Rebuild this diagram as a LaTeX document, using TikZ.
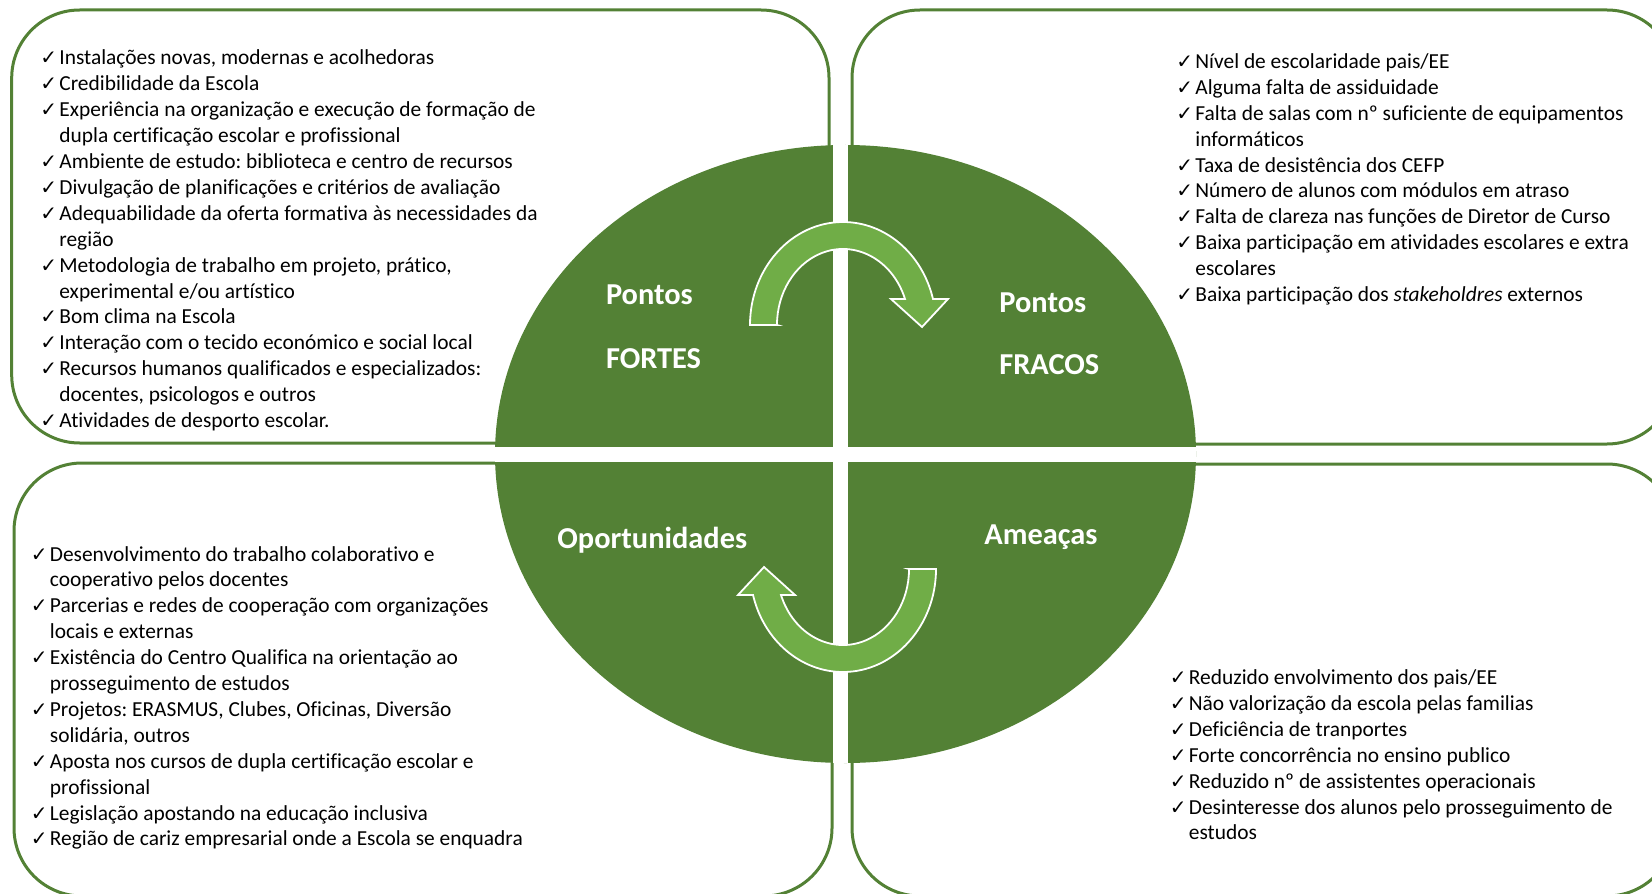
\documentclass[tikz,border=0pt]{standalone}
\usepackage{fontspec}
\setmainfont{Carlito}[Ligatures=NoCommon]
\newfontfamily\ckfont{DejaVu Sans}
\definecolor{dkgreen}{HTML}{538135}
\definecolor{ltgreen}{HTML}{70AD47}
\frenchspacing
\newcommand{\ck}{\makebox[9.5pt][l]{\ckfont\fontsize{10}{10}\selectfont ✓}}
\tikzset{
  boxline/.style={draw=dkgreen, line width=1.5pt, rounded corners=34pt},
  listtext/.style={anchor=base west, inner sep=0pt, font=\fontsize{10.7}{12.95}\selectfont\frenchspacing},
  label/.style={anchor=base west, inner sep=0pt, text=white, font=\fontsize{15.2}{18}\selectfont\bfseries},
  cyc/.style={fill=ltgreen, draw=white, line width=0.9pt, line join=miter}
}
\begin{document}
\begin{tikzpicture}[x=0.5pt, y=-0.5pt]
\useasboundingbox (0,0) rectangle (1652,893);
\clip (0,0) rectangle (1652,893);
% boxes
\draw[boxline] (11.7,10) rectangle (829,443);
\draw[boxline] (852,10) rectangle (1675,444);
\draw[boxline] (14,463) rectangle (832,896);
\draw[boxline] (852,464) rectangle (1675,896);
% ellipse
\fill[dkgreen] (845.5,454) ellipse [x radius=350.5, y radius=309];
\begin{scope}
\clip (845.5,454) ellipse [x radius=350.5, y radius=309];
\fill[white] (833,0) rectangle (848,893);
\fill[white] (0,447) rectangle (1652,462);
\end{scope}
% arrows
\filldraw[cyc, shift={(843,325)}] (-66,0) -- (-93,0)
  arc[start angle=180, end angle=345.4, x radius=93, y radius=103]
  -- (105,-26) -- (79,2) -- (48,-26) -- (62,-26)
  arc[start angle=340, end angle=180, x radius=66, y radius=76] -- cycle;
\filldraw[cyc, shift={(843,569)}, rotate=180] (-66,0) -- (-93,0)
  arc[start angle=180, end angle=345.4, x radius=93, y radius=103]
  -- (105,-26) -- (79,2) -- (48,-26) -- (62,-26)
  arc[start angle=340, end angle=180, x radius=66, y radius=76] -- cycle;
% labels
\node[label] (pf1) at (605.6,304.5) {Pontos};
\node[label] (pf2) at (605.6,368.5) {FORTES};
\node[label] (pw1) at (999,312.5) {Pontos};
\node[label] (pw2) at (999,374.5) {FRACOS};
\node[label] (op) at (557,548) {Oportunidades};
\node[label] (am) at (984,544.7) {Ameaças};
% lists
\node[listtext] (tl) at (40,65) {\begin{tabular}[t]{@{}l@{}l@{}}
\ck & Instalações novas, modernas e acolhedoras\\
\ck & Credibilidade da Escola\\
\ck & Experiência na organização e execução de formação de\\
 & dupla certificação escolar e profissional\\
\ck & Ambiente de estudo: biblioteca e centro de recursos\\
\ck & Divulgação de planificações e critérios de avaliação\\
\ck & Adequabilidade da oferta formativa às necessidades da\\
 & região\\
\ck & Metodologia de trabalho em projeto, prático,\\
 & experimental e/ou artístico\\
\ck & Bom clima na Escola\\
\ck & Interação com o tecido económico e social local\\
\ck & Recursos humanos qualificados e especializados:\\
 & docentes, psicologos e outros\\
\ck & Atividades de desporto escolar.
\end{tabular}};
\node[listtext] (tr) at (1176,68.5) {\begin{tabular}[t]{@{}l@{}l@{}}
\ck & Nível de escolaridade pais/EE\\
\ck & Alguma falta de assiduidade\\
\ck & Falta de salas com nº suficiente de equipamentos\\
 & informáticos\\
\ck & Taxa de desistência dos CEFP\\
\ck & Número de alunos com módulos em atraso\\
\ck & Falta de clareza nas funções de Diretor de Curso\\
\ck & Baixa participação em atividades escolares e extra\\
 & escolares\\
\ck & Baixa participação dos \textit{stakeholdres} externos
\end{tabular}};
\node[listtext] (bl) at (30.5,561) {\begin{tabular}[t]{@{}l@{}l@{}}
\ck & Desenvolvimento do trabalho colaborativo e\\
 & cooperativo pelos docentes\\
\ck & Parcerias e redes de cooperação com organizações\\
 & locais e externas\\
\ck & Existência do Centro Qualifica na orientação ao\\
 & prosseguimento de estudos\\
\ck & Projetos: ERASMUS, Clubes, Oficinas, Diversão\\
 & solidária, outros\\
\ck & Aposta nos cursos de dupla certificação escolar e\\
 & profissional\\
\ck & Legislação apostando na educação inclusiva\\
\ck & Região de cariz empresarial onde a Escola se enquadra
\end{tabular}};
\node[listtext] (br) at (1169.5,684.5) {\begin{tabular}[t]{@{}l@{}l@{}}
\ck & Reduzido envolvimento dos pais/EE\\
\ck & Não valorização da escola pelas familias\\
\ck & Deficiência de tranportes\\
\ck & Forte concorrência no ensino publico\\
\ck & Reduzido nº de assistentes operacionais\\
\ck & Desinteresse dos alunos pelo prosseguimento de\\
 & estudos
\end{tabular}};
\end{tikzpicture}
\end{document}
